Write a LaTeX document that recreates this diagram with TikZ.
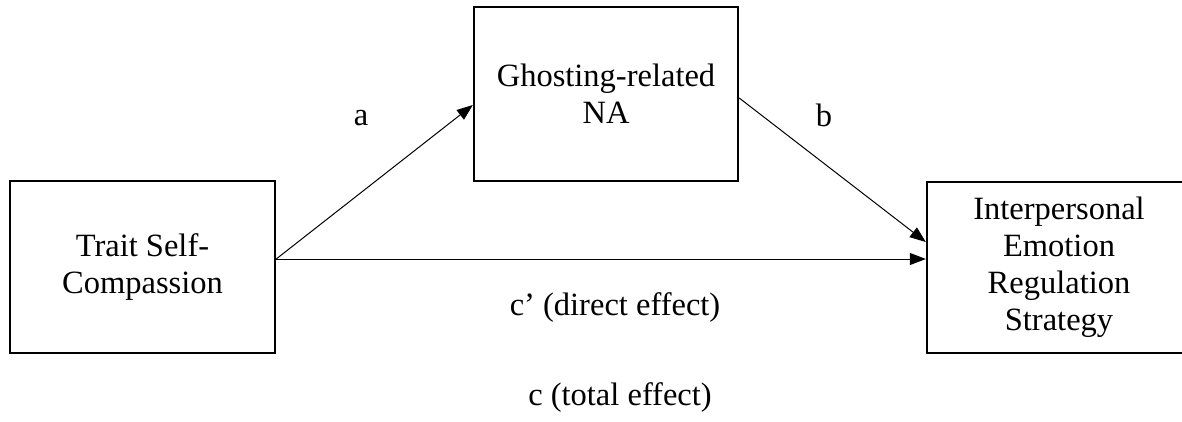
\documentclass[tikz,border=0pt]{standalone}
\usepackage{fontspec}
\setmainfont{Liberation Serif}
\usetikzlibrary{arrows.meta}
\begin{document}
\begin{tikzpicture}[x=1pt,y=-1pt,
  box/.style={draw=black,line width=2.4pt,rectangle,align=center,inner sep=0pt,
    font=\fontsize{32.5}{37}\selectfont},
  conn/.style={line width=1pt,-{Triangle[length=16pt,width=12pt]}},
  lab/.style={font=\fontsize{32.5}{37}\selectfont,inner sep=0pt}]
\useasboundingbox (0,0) rectangle (1182,421);
\node[box,minimum width=265pt,minimum height=172pt] (L) at (142.5,267) {Trait Self-\\Compassion};
\node[box,minimum width=264pt,minimum height=174pt] (T) at (606,94) {Ghosting-related\\NA};
\node[box,minimum width=264pt,minimum height=171pt] (R) at (1059,267.5) {Interpersonal\\Emotion\\Regulation\\Strategy};
\draw[conn] ([yshift=8pt]L.east) -- ([yshift=-11pt]T.west);
\draw[conn] ([yshift=-4pt]T.east) -- ([yshift=25.5pt]R.west);
\draw[conn] ([yshift=8pt]L.east) -- ([yshift=8pt]L.east -| R.west);
\node[lab] (la) at (361,118) {a};
\node[lab] (lb) at (824,115) {b};
\node[lab] (lc1) at (615,308) {c’ (direct effect)};
\node[lab] (lc) at (620,398) {c (total effect)};
\end{tikzpicture}
\end{document}
